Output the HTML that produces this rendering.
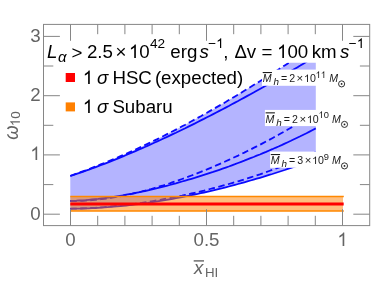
<!DOCTYPE html><html><head><meta charset="utf-8"><style>html,body{margin:0;padding:0;background:#fff}</style></head><body><svg width="374" height="281" viewBox="0 0 374 281" style="display:block;will-change:transform;font-family:'Liberation Sans',sans-serif"><rect width="374" height="281" fill="#fff"/><defs><clipPath id="cp"><rect x="43.5" y="62.8" width="273.9" height="162.8"/></clipPath></defs><g clip-path="url(#cp)"><path d="M70.3,175.8 L73.4,174.8 L76.5,173.7 L79.6,172.5 L82.7,171.4 L85.8,170.3 L88.9,169.1 L92.0,167.9 L95.1,166.7 L98.2,165.5 L101.3,164.2 L104.4,163.0 L107.6,161.7 L110.7,160.4 L113.8,159.1 L116.9,157.8 L120.0,156.4 L123.1,155.1 L126.2,153.7 L129.3,152.3 L132.4,150.9 L135.5,149.5 L138.6,148.0 L141.7,146.6 L144.9,145.1 L148.0,143.6 L151.1,142.1 L154.2,140.6 L157.3,139.1 L160.4,137.5 L163.5,136.0 L166.6,134.4 L169.7,132.8 L172.8,131.2 L175.9,129.6 L179.0,128.0 L182.1,126.3 L185.3,124.7 L188.4,123.0 L191.5,121.3 L194.6,119.6 L197.7,117.9 L200.8,116.2 L203.9,114.4 L207.0,112.7 L210.1,110.9 L213.2,109.2 L216.3,107.4 L219.4,105.6 L222.6,103.8 L225.7,102.0 L228.8,100.1 L231.9,98.3 L235.0,96.4 L238.1,94.6 L241.2,92.7 L244.3,90.8 L247.4,88.9 L250.5,87.0 L253.6,85.1 L256.7,83.2 L259.9,81.2 L263.0,79.3 L266.1,77.3 L269.2,75.4 L272.3,73.4 L275.4,71.4 L278.5,69.4 L281.6,67.4 L284.7,65.4 L287.8,63.4 L290.9,61.3 L294.0,59.3 L297.2,57.3 L300.3,55.2 L303.4,53.2 L306.5,51.1 L309.6,49.0 L312.7,46.9 L315.8,44.8 L315.8,159.2 L312.7,160.3 L309.6,161.4 L306.5,162.5 L303.4,163.6 L300.3,164.7 L297.2,165.8 L294.0,166.8 L290.9,167.9 L287.8,168.9 L284.7,170.0 L281.6,171.0 L278.5,172.0 L275.4,173.0 L272.3,174.0 L269.2,174.9 L266.1,175.9 L263.0,176.9 L259.9,177.8 L256.7,178.7 L253.6,179.6 L250.5,180.5 L247.4,181.4 L244.3,182.3 L241.2,183.2 L238.1,184.0 L235.0,184.8 L231.9,185.7 L228.8,186.5 L225.7,187.3 L222.6,188.1 L219.4,188.8 L216.3,189.6 L213.2,190.3 L210.1,191.1 L207.0,191.8 L203.9,192.5 L200.8,193.2 L197.7,193.9 L194.6,194.5 L191.5,195.2 L188.4,195.8 L185.3,196.4 L182.1,197.1 L179.0,197.6 L175.9,198.2 L172.8,198.8 L169.7,199.3 L166.6,199.9 L163.5,200.4 L160.4,200.9 L157.3,201.4 L154.2,201.9 L151.1,202.3 L148.0,202.8 L144.9,203.2 L141.7,203.6 L138.6,204.0 L135.5,204.4 L132.4,204.8 L129.3,205.1 L126.2,205.5 L123.1,205.8 L120.0,206.1 L116.9,206.4 L113.8,206.7 L110.7,206.9 L107.6,207.2 L104.4,207.4 L101.3,207.6 L98.2,207.8 L95.1,208.0 L92.0,208.1 L88.9,208.3 L85.8,208.4 L82.7,208.5 L79.6,208.6 L76.5,208.7 L73.4,208.7 L70.3,208.8Z" fill="#b4b4ff"/><path d="M70.3,176.0 L73.4,174.9 L76.5,173.9 L79.6,172.8 L82.7,171.8 L85.8,170.7 L88.9,169.6 L92.0,168.4 L95.1,167.3 L98.2,166.1 L101.3,165.0 L104.4,163.8 L107.6,162.6 L110.7,161.3 L113.8,160.1 L116.9,158.9 L120.0,157.6 L123.1,156.3 L126.2,155.0 L129.3,153.7 L132.4,152.4 L135.5,151.1 L138.6,149.7 L141.7,148.4 L144.9,147.0 L148.0,145.6 L151.1,144.2 L154.2,142.8 L157.3,141.4 L160.4,140.0 L163.5,138.5 L166.6,137.1 L169.7,135.6 L172.8,134.1 L175.9,132.7 L179.0,131.2 L182.1,129.7 L185.3,128.2 L188.4,126.6 L191.5,125.1 L194.6,123.6 L197.7,122.0 L200.8,120.4 L203.9,118.9 L207.0,117.3 L210.1,115.7 L213.2,114.1 L216.3,112.5 L219.4,110.9 L222.6,109.2 L225.7,107.6 L228.8,106.0 L231.9,104.3 L235.0,102.6 L238.1,101.0 L241.2,99.3 L244.3,97.6 L247.4,95.9 L250.5,94.2 L253.6,92.5 L256.7,90.7 L259.9,89.0 L263.0,87.3 L266.1,85.5 L269.2,83.7 L272.3,82.0 L275.4,80.2 L278.5,78.4 L281.6,76.6 L284.7,74.8 L287.8,72.9 L290.9,71.1 L294.0,69.3 L297.2,67.4 L300.3,65.6 L303.4,63.7 L306.5,61.8 L309.6,59.9 L312.7,58.0 L315.8,56.1" fill="none" stroke="#0a0aff" stroke-width="1.8"/><path d="M70.3,200.9 L73.4,200.8 L76.5,200.7 L79.6,200.5 L82.7,200.3 L85.8,200.1 L88.9,199.8 L92.0,199.5 L95.1,199.2 L98.2,198.9 L101.3,198.5 L104.4,198.1 L107.6,197.7 L110.7,197.3 L113.8,196.8 L116.9,196.3 L120.0,195.8 L123.1,195.3 L126.2,194.7 L129.3,194.1 L132.4,193.6 L135.5,192.9 L138.6,192.3 L141.7,191.7 L144.9,191.0 L148.0,190.3 L151.1,189.6 L154.2,188.9 L157.3,188.1 L160.4,187.4 L163.5,186.6 L166.6,185.8 L169.7,185.0 L172.8,184.1 L175.9,183.3 L179.0,182.4 L182.1,181.5 L185.3,180.6 L188.4,179.7 L191.5,178.8 L194.6,177.9 L197.7,176.9 L200.8,175.9 L203.9,174.9 L207.0,173.9 L210.1,172.9 L213.2,171.9 L216.3,170.8 L219.4,169.8 L222.6,168.7 L225.7,167.6 L228.8,166.5 L231.9,165.3 L235.0,164.2 L238.1,163.0 L241.2,161.8 L244.3,160.7 L247.4,159.4 L250.5,158.2 L253.6,157.0 L256.7,155.7 L259.9,154.5 L263.0,153.2 L266.1,151.9 L269.2,150.5 L272.3,149.2 L275.4,147.8 L278.5,146.5 L281.6,145.1 L284.7,143.6 L287.8,142.2 L290.9,140.8 L294.0,139.3 L297.2,137.8 L300.3,136.3 L303.4,134.7 L306.5,133.2 L309.6,131.6 L312.7,130.0 L315.8,128.4" fill="none" stroke="#0a0aff" stroke-width="1.8"/><path d="M70.3,208.8 L73.4,208.7 L76.5,208.7 L79.6,208.6 L82.7,208.5 L85.8,208.4 L88.9,208.3 L92.0,208.1 L95.1,208.0 L98.2,207.8 L101.3,207.6 L104.4,207.4 L107.6,207.2 L110.7,206.9 L113.8,206.7 L116.9,206.4 L120.0,206.1 L123.1,205.8 L126.2,205.5 L129.3,205.1 L132.4,204.8 L135.5,204.4 L138.6,204.0 L141.7,203.6 L144.9,203.2 L148.0,202.8 L151.1,202.3 L154.2,201.9 L157.3,201.4 L160.4,200.9 L163.5,200.4 L166.6,199.9 L169.7,199.3 L172.8,198.8 L175.9,198.2 L179.0,197.6 L182.1,197.1 L185.3,196.4 L188.4,195.8 L191.5,195.2 L194.6,194.5 L197.7,193.9 L200.8,193.2 L203.9,192.5 L207.0,191.8 L210.1,191.1 L213.2,190.3 L216.3,189.6 L219.4,188.8 L222.6,188.1 L225.7,187.3 L228.8,186.5 L231.9,185.7 L235.0,184.8 L238.1,184.0 L241.2,183.2 L244.3,182.3 L247.4,181.4 L250.5,180.5 L253.6,179.6 L256.7,178.7 L259.9,177.8 L263.0,176.9 L266.1,175.9 L269.2,174.9 L272.3,174.0 L275.4,173.0 L278.5,172.0 L281.6,171.0 L284.7,170.0 L287.8,168.9 L290.9,167.9 L294.0,166.8 L297.2,165.8 L300.3,164.7 L303.4,163.6 L306.5,162.5 L309.6,161.4 L312.7,160.3 L315.8,159.2" fill="none" stroke="#0a0aff" stroke-width="1.8"/><path d="M70.3,175.8 L73.4,174.8 L76.5,173.7 L79.6,172.5 L82.7,171.4 L85.8,170.3 L88.9,169.1 L92.0,167.9 L95.1,166.7 L98.2,165.5 L101.3,164.2 L104.4,163.0 L107.6,161.7 L110.7,160.4 L113.8,159.1 L116.9,157.8 L120.0,156.4 L123.1,155.1 L126.2,153.7 L129.3,152.3 L132.4,150.9 L135.5,149.5 L138.6,148.0 L141.7,146.6 L144.9,145.1 L148.0,143.6 L151.1,142.1 L154.2,140.6 L157.3,139.1 L160.4,137.5 L163.5,136.0 L166.6,134.4 L169.7,132.8 L172.8,131.2 L175.9,129.6 L179.0,128.0 L182.1,126.3 L185.3,124.7 L188.4,123.0 L191.5,121.3 L194.6,119.6 L197.7,117.9 L200.8,116.2 L203.9,114.4 L207.0,112.7 L210.1,110.9 L213.2,109.2 L216.3,107.4 L219.4,105.6 L222.6,103.8 L225.7,102.0 L228.8,100.1 L231.9,98.3 L235.0,96.4 L238.1,94.6 L241.2,92.7 L244.3,90.8 L247.4,88.9 L250.5,87.0 L253.6,85.1 L256.7,83.2 L259.9,81.2 L263.0,79.3 L266.1,77.3 L269.2,75.4 L272.3,73.4 L275.4,71.4 L278.5,69.4 L281.6,67.4 L284.7,65.4 L287.8,63.4 L290.9,61.3 L294.0,59.3 L297.2,57.3 L300.3,55.2 L303.4,53.2 L306.5,51.1 L309.6,49.0 L312.7,46.9 L315.8,44.8" fill="none" stroke="#0a0aff" stroke-width="1.8" stroke-dasharray="6.5,3.5"/><path d="M70.3,201.0 L73.4,201.0 L76.5,201.0 L79.6,200.9 L82.7,200.8 L85.8,200.6 L88.9,200.4 L92.0,200.2 L95.1,199.9 L98.2,199.6 L101.3,199.2 L104.4,198.8 L107.6,198.4 L110.7,197.9 L113.8,197.4 L116.9,196.9 L120.0,196.3 L123.1,195.7 L126.2,195.1 L129.3,194.4 L132.4,193.7 L135.5,193.0 L138.6,192.3 L141.7,191.5 L144.9,190.7 L148.0,189.8 L151.1,189.0 L154.2,188.1 L157.3,187.2 L160.4,186.2 L163.5,185.3 L166.6,184.3 L169.7,183.3 L172.8,182.2 L175.9,181.2 L179.0,180.1 L182.1,179.0 L185.3,177.8 L188.4,176.7 L191.5,175.5 L194.6,174.3 L197.7,173.1 L200.8,171.9 L203.9,170.6 L207.0,169.4 L210.1,168.1 L213.2,166.8 L216.3,165.4 L219.4,164.1 L222.6,162.7 L225.7,161.3 L228.8,159.9 L231.9,158.5 L235.0,157.0 L238.1,155.6 L241.2,154.1 L244.3,152.6 L247.4,151.0 L250.5,149.5 L253.6,147.9 L256.7,146.4 L259.9,144.8 L263.0,143.1 L266.1,141.5 L269.2,139.9 L272.3,138.2 L275.4,136.5 L278.5,134.8 L281.6,133.0 L284.7,131.3 L287.8,129.5 L290.9,127.7 L294.0,125.9 L297.2,124.0 L300.3,122.2 L303.4,120.3 L306.5,118.4 L309.6,116.5 L312.7,114.5 L315.8,112.5" fill="none" stroke="#0a0aff" stroke-width="1.8" stroke-dasharray="6.5,3.5"/><path d="M70.3,208.7 L73.4,208.7 L76.5,208.6 L79.6,208.5 L82.7,208.4 L85.8,208.3 L88.9,208.1 L92.0,207.9 L95.1,207.8 L98.2,207.5 L101.3,207.3 L104.4,207.1 L107.6,206.8 L110.7,206.5 L113.8,206.2 L116.9,205.9 L120.0,205.6 L123.1,205.2 L126.2,204.9 L129.3,204.5 L132.4,204.1 L135.5,203.7 L138.6,203.2 L141.7,202.8 L144.9,202.3 L148.0,201.8 L151.1,201.3 L154.2,200.8 L157.3,200.3 L160.4,199.8 L163.5,199.2 L166.6,198.6 L169.7,198.1 L172.8,197.4 L175.9,196.8 L179.0,196.2 L182.1,195.6 L185.3,194.9 L188.4,194.2 L191.5,193.5 L194.6,192.8 L197.7,192.1 L200.8,191.3 L203.9,190.6 L207.0,189.8 L210.1,189.0 L213.2,188.2 L216.3,187.4 L219.4,186.6 L222.6,185.7 L225.7,184.9 L228.8,184.0 L231.9,183.1 L235.0,182.2 L238.1,181.3 L241.2,180.3 L244.3,179.4 L247.4,178.4 L250.5,177.4 L253.6,176.4 L256.7,175.3 L259.9,174.3 L263.0,173.2 L266.1,172.1 L269.2,171.0 L272.3,169.9 L275.4,168.8 L278.5,167.6 L281.6,166.4 L284.7,165.2 L287.8,164.0 L290.9,162.8 L294.0,161.5 L297.2,160.2 L300.3,158.9 L303.4,157.6 L306.5,156.2 L309.6,154.9 L312.7,153.5 L315.8,152.1" fill="none" stroke="#0a0aff" stroke-width="1.8" stroke-dasharray="6.5,3.5"/></g><rect x="70.3" y="196.5" width="272.7" height="14.5" fill="#ff8000" fill-opacity="0.5"/><path d="M70.3,196.5H343.8M70.3,211.0H343.8" stroke="#ff8800" stroke-width="1.7" fill="none"/><path d="M70.3,204.1H343.7" stroke="#ff0000" stroke-width="3.0" fill="none"/><rect x="43.5" y="24.4" width="326.2" height="201.2" fill="none" stroke="#868686" stroke-width="1"/><path d="M70.5,225.6v-16.4M70.5,24.4v16.4M97.7,225.6v-9.8M97.7,24.4v9.8M124.9,225.6v-9.8M124.9,24.4v9.8M152.1,225.6v-9.8M152.1,24.4v9.8M179.3,225.6v-9.8M179.3,24.4v9.8M206.5,225.6v-16.4M206.5,24.4v16.4M233.7,225.6v-9.8M233.7,24.4v9.8M260.9,225.6v-9.8M260.9,24.4v9.8M288.1,225.6v-9.8M288.1,24.4v9.8M315.3,225.6v-9.8M315.3,24.4v9.8M342.5,225.6v-16.4M342.5,24.4v16.4M43.5,214.2h16.4M369.7,214.2h-16.4M43.5,184.6h9.8M369.7,184.6h-9.8M43.5,154.9h16.4M369.7,154.9h-16.4M43.5,125.3h9.8M369.7,125.3h-9.8M43.5,95.7h16.4M369.7,95.7h-16.4M43.5,66.0h9.8M369.7,66.0h-9.8M43.5,36.4h16.4M369.7,36.4h-16.4" stroke="#868686" stroke-width="1" fill="none"/><text x="30.2" y="219.7" font-size="18.7" fill="#646464">0</text><path transform="translate(30.20,160) scale(0.00913,-0.00913)" fill="#646464" d="M763 0H583V1147Q518 1085 412.5 1023T223 930V1104Q374 1175 487 1276T647 1472H763V0Z"/><text x="30.2" y="101.2" font-size="18.7" fill="#646464">2</text><text x="30.2" y="41.9" font-size="18.7" fill="#646464">3</text><text x="65.3" y="246.0" font-size="18.7" fill="#646464">0</text><text x="193.5" y="246.0" font-size="18.7" fill="#646464">0.5</text><path transform="translate(337.30,246) scale(0.00913,-0.00913)" fill="#646464" d="M763 0H583V1147Q518 1085 412.5 1023T223 930V1104Q374 1175 487 1276T647 1472H763V0Z"/><g transform="translate(17.6,139.8) rotate(-90)"><text x="0" y="0" font-size="20.5" fill="#646464" font-style="italic" transform="scale(0.9,1)">ω</text><path transform="translate(13.50,2.3) scale(0.00659,-0.00659)" fill="#646464" d="M763 0H583V1147Q518 1085 412.5 1023T223 930V1104Q374 1175 487 1276T647 1472H763V0Z"/><text x="21.01" y="2.3" font-size="13.5" fill="#646464">0</text></g><text x="194.1" y="273.7" font-size="18.7" fill="#646464" font-style="italic">x</text><text x="205.0" y="277.1" font-size="13.3" fill="#646464">HI</text><path d="M193.7,260.9h10.3" stroke="#646464" stroke-width="1.4"/><text x="47.0" y="57.6" font-size="18.7" fill="#000" font-style="italic">L</text><text x="86.9" y="57.6" font-size="18.7" fill="#000">2.5</text><text x="115.6" y="57.6" font-size="18.7" fill="#000">×</text><path transform="translate(128.90,58) scale(0.00913,-0.00913)" fill="#000" d="M763 0H583V1147Q518 1085 412.5 1023T223 930V1104Q374 1175 487 1276T647 1472H763V0Z"/><text x="139.3" y="57.6" font-size="18.7" fill="#000">0</text><text x="170.3" y="57.6" font-size="18.7" fill="#000">erg</text><text x="199.6" y="57.6" font-size="18.7" fill="#000" font-style="italic">s</text><text x="223.3" y="57.6" font-size="18.7" fill="#000">,</text><text x="234.4" y="57.6" font-size="18.7" fill="#000">Δv</text><text x="261.5" y="57.6" font-size="18.7" fill="#000">=</text><path transform="translate(277.00,58) scale(0.00913,-0.00913)" fill="#000" d="M763 0H583V1147Q518 1085 412.5 1023T223 930V1104Q374 1175 487 1276T647 1472H763V0Z"/><text x="287.4" y="57.6" font-size="18.7" fill="#000">00</text><text x="311.7" y="57.6" font-size="18.7" fill="#000">km</text><text x="340.0" y="57.6" font-size="18.7" fill="#000" font-style="italic">s</text><text x="71.4" y="58.6" font-size="18.7" fill="#000">&gt;</text><text x="58.0" y="62.2" font-size="15" fill="#000" font-style="italic">α</text><text x="149.9" y="48.4" font-size="13.6" fill="#000">42</text><text x="208.2" y="48.4" font-size="13.6" fill="#000">−</text><path transform="translate(216.14,48) scale(0.00664,-0.00664)" fill="#000" d="M763 0H583V1147Q518 1085 412.5 1023T223 930V1104Q374 1175 487 1276T647 1472H763V0Z"/><text x="348.8" y="48.4" font-size="13.6" fill="#000">−</text><path transform="translate(356.74,48) scale(0.00664,-0.00664)" fill="#000" d="M763 0H583V1147Q518 1085 412.5 1023T223 930V1104Q374 1175 487 1276T647 1472H763V0Z"/><rect x="65.7" y="73" width="9.3" height="9" fill="#ff0000"/><rect x="65.7" y="102.4" width="9.3" height="9" fill="#ff8000"/><text x="154.9" y="83.6" font-size="18.7" fill="#000">(expected)</text><path transform="translate(82.80,84) scale(0.00913,-0.00913)" fill="#000" d="M763 0H583V1147Q518 1085 412.5 1023T223 930V1104Q374 1175 487 1276T647 1472H763V0Z"/><text x="97.0" y="83.6" font-size="18.7" fill="#000" font-style="italic">σ</text><text x="112.4" y="83.6" font-size="18.7" fill="#000">HSC</text><path transform="translate(82.80,113) scale(0.00913,-0.00913)" fill="#000" d="M763 0H583V1147Q518 1085 412.5 1023T223 930V1104Q374 1175 487 1276T647 1472H763V0Z"/><text x="97.0" y="113.0" font-size="18.7" fill="#000" font-style="italic">σ</text><text x="112.4" y="113.0" font-size="18.7" fill="#000">Subaru</text><g transform="translate(0,0)"><rect x="262" y="69.6" width="86" height="16.2" fill="#fff"/><path d="M262.7,72.55h9.3" stroke="#1a1a1a" stroke-width="1.1"/></g><text x="262.7" y="82.0" font-size="10.6" fill="#1a1a1a" font-style="italic">M</text><text x="273.4" y="85.3" font-size="9.9" fill="#1a1a1a" font-style="italic">h</text><text x="280.9" y="82.0" font-size="10.6" fill="#1a1a1a">=</text><text x="289.2" y="82.0" font-size="10.6" fill="#1a1a1a">2</text><text x="296.6" y="82.2" font-size="11.4" fill="#1a1a1a">×</text><path transform="translate(304.00,82) scale(0.00518,-0.00518)" fill="#1a1a1a" d="M763 0H583V1147Q518 1085 412.5 1023T223 930V1104Q374 1175 487 1276T647 1472H763V0Z"/><text x="309.89" y="82.0" font-size="10.6" fill="#1a1a1a">0</text><path transform="translate(315.60,78) scale(0.00454,-0.00454)" fill="#1a1a1a" d="M763 0H583V1147Q518 1085 412.5 1023T223 930V1104Q374 1175 487 1276T647 1472H763V0Z"/><path transform="translate(320.77,78) scale(0.00454,-0.00454)" fill="#1a1a1a" d="M763 0H583V1147Q518 1085 412.5 1023T223 930V1104Q374 1175 487 1276T647 1472H763V0Z"/><text x="329.2" y="82.0" font-size="10.6" fill="#1a1a1a" font-style="italic">M</text><circle cx="341.6" cy="83.9" r="3.05" fill="none" stroke="#1a1a1a" stroke-width="0.9"/><circle cx="341.6" cy="83.9" r="0.9" fill="#1a1a1a"/><g transform="translate(2.9,40.3)"><rect x="262" y="69.6" width="86" height="16.2" fill="#fff"/><path d="M262.7,72.55h9.3" stroke="#1a1a1a" stroke-width="1.1"/></g><text x="265.6" y="122.5" font-size="10.6" fill="#1a1a1a" font-style="italic">M</text><text x="276.3" y="125.8" font-size="9.9" fill="#1a1a1a" font-style="italic">h</text><text x="283.8" y="122.5" font-size="10.6" fill="#1a1a1a">=</text><text x="292.1" y="122.5" font-size="10.6" fill="#1a1a1a">2</text><text x="299.5" y="122.7" font-size="11.4" fill="#1a1a1a">×</text><path transform="translate(306.90,123) scale(0.00518,-0.00518)" fill="#1a1a1a" d="M763 0H583V1147Q518 1085 412.5 1023T223 930V1104Q374 1175 487 1276T647 1472H763V0Z"/><text x="312.79" y="122.5" font-size="10.6" fill="#1a1a1a">0</text><path transform="translate(318.50,118) scale(0.00454,-0.00454)" fill="#1a1a1a" d="M763 0H583V1147Q518 1085 412.5 1023T223 930V1104Q374 1175 487 1276T647 1472H763V0Z"/><text x="323.67" y="118.0" font-size="9.3" fill="#1a1a1a">0</text><text x="332.1" y="122.5" font-size="10.6" fill="#1a1a1a" font-style="italic">M</text><circle cx="344.5" cy="124.4" r="3.05" fill="none" stroke="#1a1a1a" stroke-width="0.9"/><circle cx="344.5" cy="124.4" r="0.9" fill="#1a1a1a"/><g transform="translate(8.1,82.0)"><rect x="262" y="69.6" width="82" height="16.2" fill="#fff"/><path d="M262.7,72.55h9.3" stroke="#1a1a1a" stroke-width="1.1"/></g><text x="270.8" y="164.0" font-size="10.6" fill="#1a1a1a" font-style="italic">M</text><text x="281.5" y="167.3" font-size="9.9" fill="#1a1a1a" font-style="italic">h</text><text x="289.0" y="164.0" font-size="10.6" fill="#1a1a1a">=</text><text x="297.3" y="164.0" font-size="10.6" fill="#1a1a1a">3</text><text x="304.7" y="164.2" font-size="11.4" fill="#1a1a1a">×</text><path transform="translate(312.10,164) scale(0.00518,-0.00518)" fill="#1a1a1a" d="M763 0H583V1147Q518 1085 412.5 1023T223 930V1104Q374 1175 487 1276T647 1472H763V0Z"/><text x="317.99" y="164.0" font-size="10.6" fill="#1a1a1a">0</text><text x="323.7" y="159.5" font-size="9.3" fill="#1a1a1a">9</text><text x="332.1" y="164.0" font-size="10.6" fill="#1a1a1a" font-style="italic">M</text><circle cx="344.5" cy="165.9" r="3.05" fill="none" stroke="#1a1a1a" stroke-width="0.9"/><circle cx="344.5" cy="165.9" r="0.9" fill="#1a1a1a"/></svg></body></html>
